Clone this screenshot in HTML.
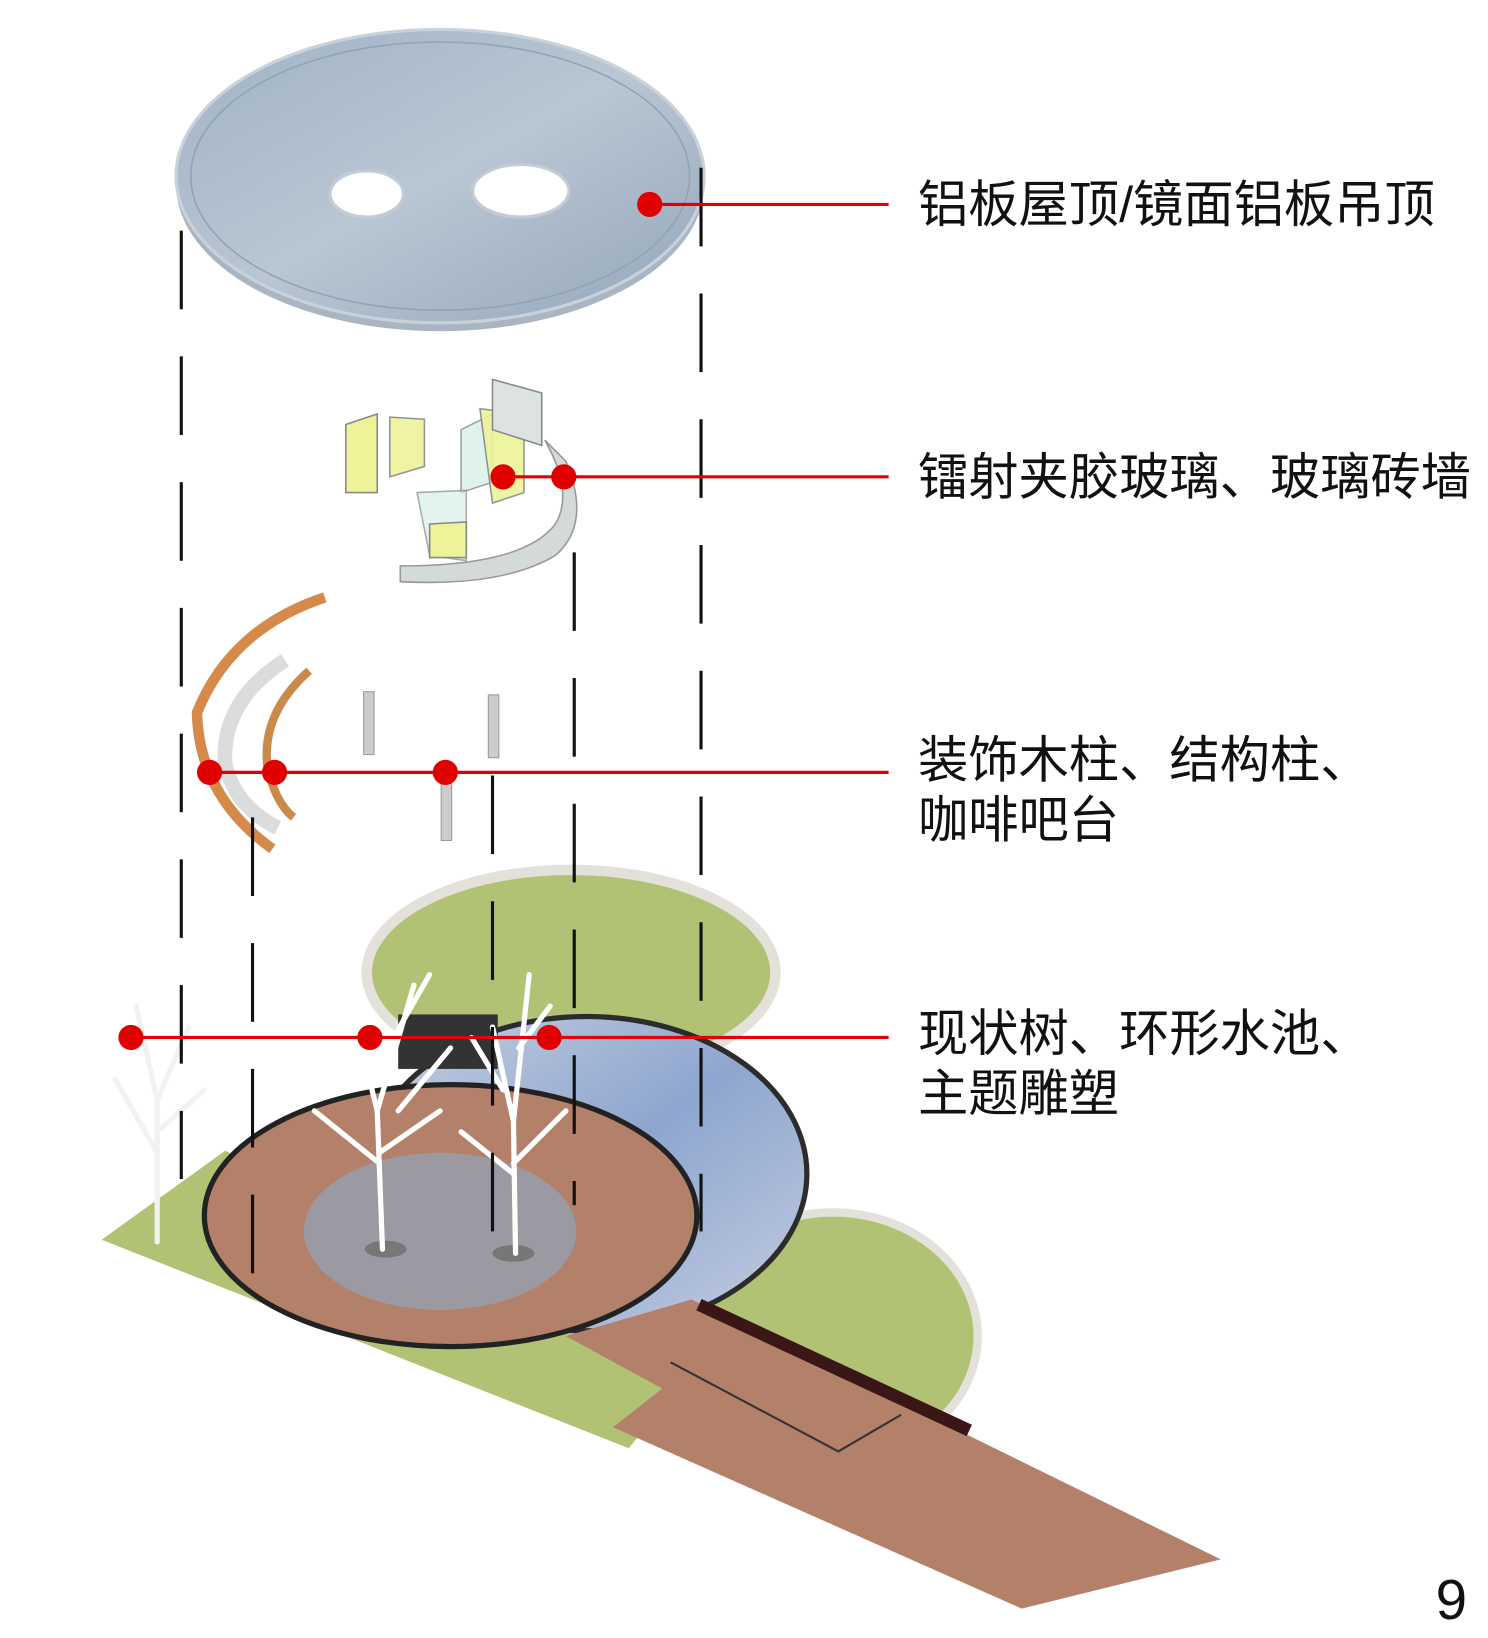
<!DOCTYPE html>
<html><head><meta charset="utf-8"><style>
html,body{margin:0;padding:0;background:#fff}
svg{display:block}
text{font-family:"Liberation Sans","Noto Sans CJK SC",sans-serif;fill:#111}
</style></head><body>
<svg width="1488" height="1638" viewBox="0 0 1420 1563" xmlns="http://www.w3.org/2000/svg">
<defs>
<linearGradient id="roof" x1="0" y1="0" x2="1" y2="1">
<stop offset="0" stop-color="#9fb2c6"/><stop offset="0.5" stop-color="#b9c6d3"/><stop offset="1" stop-color="#93a6ba"/></linearGradient>
<linearGradient id="water" x1="0" y1="0" x2="1" y2="1">
<stop offset="0" stop-color="#c8d0e0"/><stop offset="0.5" stop-color="#8ea6cf"/><stop offset="1" stop-color="#c4cde0"/></linearGradient>
</defs>
<rect width="1420" height="1563" fill="#fff"/>

<!-- roof -->
<ellipse cx="420" cy="176" rx="252" ry="140" fill="#a9b5c2"/>
<ellipse cx="420" cy="168" rx="252" ry="140" fill="url(#roof)" stroke="#c9d2db" stroke-width="3"/>
<ellipse cx="420" cy="168" rx="238" ry="128" fill="none" stroke="#93a3b4" stroke-width="1.5"/>
<ellipse cx="350" cy="185" rx="35" ry="22" fill="#fff" stroke="#c3ccd6" stroke-width="3"/>
<ellipse cx="497" cy="182" rx="46" ry="25" fill="#fff" stroke="#c3ccd6" stroke-width="3"/>

<!-- glass layer -->
<g stroke="#888" stroke-width="1.5">
<polygon points="330,405 360,395 360,470 330,470" fill="#eef39a"/>
<polygon points="372,398 405,400 405,445 372,455" fill="#eef39a" opacity="0.9"/>
<polygon points="440,410 470,395 470,460 440,470" fill="#d8f0e8" opacity="0.8"/>
<polygon points="458,390 500,395 500,470 470,480" fill="#eef39a" opacity="0.9"/>
<polygon points="470,362 517,375 517,425 470,410" fill="#dde3e0"/>
<polygon points="398,470 445,468 445,535 410,530" fill="#d8f0e8" opacity="0.7"/>
<polygon points="410,500 445,498 445,532 410,532" fill="#eef39a"/>
</g>
<path d="M382,540 L382,555 Q480,560 530,530 Q565,500 540,440 L520,420 Q548,470 530,500 Q500,540 382,540 Z" fill="#d4dada" stroke="#999" stroke-width="1.5"/>

<!-- wood arc & columns -->
<path d="M310,570 Q220,600 188,680 Q190,760 260,810" fill="none" stroke="#d58a4a" stroke-width="10"/>
<path d="M272,630 Q210,670 215,730 Q225,770 265,790" fill="none" stroke="#dcdcdc" stroke-width="14"/>
<path d="M295,640 Q250,680 255,730 Q262,765 280,780" fill="none" stroke="#c98a4a" stroke-width="8"/>
<rect x="347" y="660" width="10" height="60" fill="#ccc" stroke="#999"/>
<rect x="466" y="663" width="10" height="60" fill="#ccc" stroke="#999"/>
<rect x="421" y="740" width="10" height="62" fill="#ccc" stroke="#999"/>

<!-- ground -->
<ellipse cx="545" cy="928" rx="195" ry="98" fill="#b1c274" stroke="#e4e0da" stroke-width="10"/>
<ellipse cx="795" cy="1275" rx="138" ry="118" fill="#b1c274" stroke="#e4e0da" stroke-width="8"/>
<polygon points="97,1183 215,1098 650,1320 600,1382" fill="#b1c274"/>
<ellipse cx="560" cy="1120" rx="210" ry="150" fill="url(#water)" stroke="#2c2c2c" stroke-width="5"/>
<rect x="380" y="968" width="95" height="52" fill="#333"/>
<polygon points="540,1275 660,1240 1165,1488 975,1535 585,1362 632,1325" fill="#b3806a"/>
<ellipse cx="430" cy="1160" rx="235" ry="125" fill="#b3806a" stroke="#222" stroke-width="5"/>
<ellipse cx="420" cy="1175" rx="130" ry="75" fill="#9b99a2"/>
<ellipse cx="368" cy="1192" rx="20" ry="8" fill="#777"/>
<ellipse cx="490" cy="1196" rx="20" ry="8" fill="#777"/>
<line x1="667" y1="1245" x2="925" y2="1365" stroke="#3a1616" stroke-width="12"/>
<polyline points="640,1300 800,1385 860,1350" fill="none" stroke="#333" stroke-width="2"/>

<!-- trees -->
<g stroke="#fff" stroke-linecap="round" fill="none">
<path d="M150,1185 L150,1050 L130,960 M150,1050 L180,980 M150,1100 L110,1030 M150,1080 L195,1040" stroke-width="5" stroke="#f2f2f2"/>
<path d="M365,1192 L360,1060 L335,960 M360,1060 L395,940 M362,1110 L300,1060 M362,1100 L420,1060 M370,1000 L410,930 M345,1000 L320,950 M380,1060 L430,1000" stroke-width="5"/>
<path d="M492,1196 L490,1070 L470,980 M490,1070 L505,930 M490,1120 L440,1080 M490,1110 L540,1060 M495,1000 L525,960 M480,1040 L450,990" stroke-width="5"/>
</g>

<!-- dashed lines -->
<g stroke="#111" stroke-width="3" stroke-dasharray="75,45">
<line x1="173" y1="220" x2="173" y2="1125"/>
<line x1="669" y1="160" x2="669" y2="1175"/>
<line x1="548" y1="527" x2="548" y2="1150"/>
<line x1="470" y1="740" x2="470" y2="1180"/>
<line x1="241" y1="780" x2="241" y2="1225"/>
</g>

<!-- red leaders -->
<g stroke="#e00000" stroke-width="3">
<line x1="620" y1="195" x2="848" y2="195"/>
<line x1="480" y1="455" x2="848" y2="455"/>
<line x1="200" y1="737" x2="848" y2="737"/>
<line x1="125" y1="990" x2="848" y2="990"/>
</g>
<g fill="#e00000">
<circle cx="620" cy="195" r="12"/>
<circle cx="480" cy="455" r="12"/><circle cx="538" cy="455" r="12"/>
<circle cx="200" cy="737" r="12"/><circle cx="262" cy="737" r="12"/><circle cx="425" cy="737" r="12"/>
<circle cx="125" cy="990" r="12"/><circle cx="353" cy="990" r="12"/><circle cx="524" cy="990" r="12"/>
</g>

<!-- labels -->
<g font-size="48">
<text x="876" y="212">铝板屋顶/镜面铝板吊顶</text>
<text x="876" y="472">镭射夹胶玻璃、玻璃砖墙</text>
<text x="876" y="742">装饰木柱、结构柱、</text>
<text x="876" y="799">咖啡吧台</text>
<text x="876" y="1003">现状树、环形水池、</text>
<text x="876" y="1060">主题雕塑</text>
</g>
<text x="1370" y="1545" font-size="54">9</text>
</svg>
</body></html>
